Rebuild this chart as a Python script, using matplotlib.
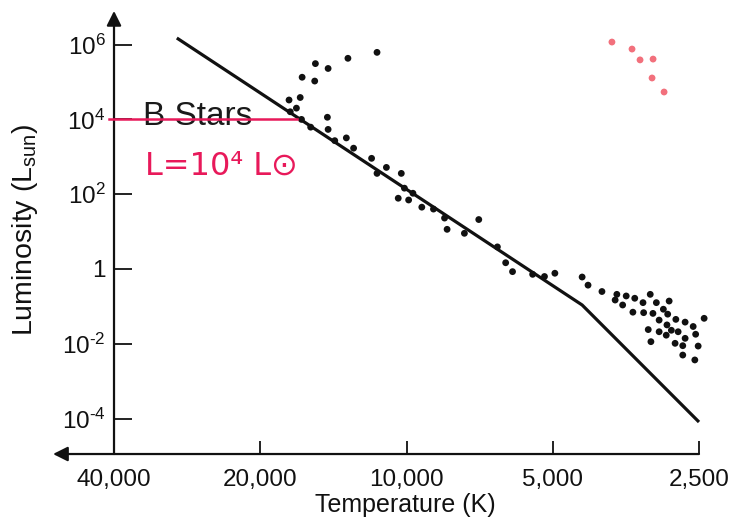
import matplotlib
matplotlib.use('Agg')
import matplotlib.pyplot as plt
from matplotlib.ticker import FixedLocator, FixedFormatter, NullLocator

plt.rcParams['font.family'] = ['Liberation Sans', 'DejaVu Sans']
plt.rcParams['mathtext.fontset'] = 'custom'
plt.rcParams['mathtext.rm'] = 'Liberation Sans'
plt.rcParams['mathtext.it'] = 'Liberation Sans:italic'
plt.rcParams['mathtext.bf'] = 'Liberation Sans:bold'

# ---------------- data ----------------
ms_temp = [29700, 4350, 2500]
ms_lum = [1.5e6, 0.109, 8.1e-5]

star_temp = [11500, 13200, 14500, 15400, 16400, 15450, 17450, 16550, 16850, 17350,
             14550, 16450, 15750, 14500, 14050, 13300, 12850, 11800, 11500, 11000,
             10250, 10100, 9700, 10400, 9900, 9300, 8800, 8350, 8250, 7600,
             7100, 6500, 6250, 6050, 5500, 5200, 4950, 4350, 4230, 3960,
             3690, 3530, 3720, 3590, 3390, 3150, 3260, 3060, 2880, 3420,
             3250, 3110, 2960, 2900, 3020, 2790, 2670, 2570, 2440, 3180,
             3020, 2910, 2850, 2920, 2760, 2670, 2540, 3140, 2800, 2700,
             2510, 2700, 2550]
star_lum = [6.2e5, 4.3e5, 2.3e5, 3.1e5, 1.34e5, 1.06e5, 3.3e4, 3.85e4, 2.0e4, 1.6e4,
            1.14e4, 1.0e4, 6.2e3, 5.4e3, 2.7e3, 3.2e3, 1.7e3, 910, 360, 520,
            360, 145, 106, 78, 70, 45, 40, 23, 11.5, 9.0,
            21, 3.9, 1.47, 0.85, 0.72, 0.63, 0.77, 0.61, 0.37, 0.25,
            0.21, 0.19, 0.148, 0.109, 0.165, 0.21, 0.126, 0.126, 0.139, 0.07,
            0.068, 0.065, 0.084, 0.062, 0.043, 0.045, 0.038, 0.029, 0.048, 0.024,
            0.021, 0.032, 0.023, 0.017, 0.021, 0.014, 0.018, 0.0114, 0.0103, 0.0089,
            0.0087, 0.005, 0.0037]

giant_temp = [3777, 3434, 3306, 3108, 3123, 2950]
giant_lum = [1.17e6, 7.6e5, 3.9e5, 4.1e5, 1.28e5, 5.4e4]

bstar_temp = [41000, 16800]
bstar_lum = [1e4, 1e4]

x_ticks = [40000, 20000, 10000, 5000, 2500]
x_labels = ['40,000', '20,000', '10,000', '5,000', '2,500']
y_ticks = [1e6, 1e4, 1e2, 1, 1e-2, 1e-4]
y_labels = [r'$10^{6}$', r'$10^{4}$', r'$10^{2}$', '1', r'$10^{\text{-}2}$', r'$10^{\text{-}4}$']

# ---------------- figure ----------------
W, H = 734, 525
fig = plt.figure(figsize=(W / 100, H / 100), dpi=100)
ax = fig.add_axes([50 / W, 1 - 460 / H, 660 / W, 450 / H])
ax.set_xscale('log')
ax.set_yscale('log')
ax.set_xlim(54177, 2373)
ax.set_ylim(10 ** -5.107, 10 ** 6.925)

x_axis_y = 10 ** -4.947
y_axis_x = 40000

for s in ['top', 'right']:
    ax.spines[s].set_visible(False)
ax.spines['left'].set_position(('data', y_axis_x))
ax.spines['bottom'].set_position(('data', x_axis_y))
ax.spines['left'].set_visible(False)
ax.spines['bottom'].set_visible(False)

# axis lines with arrows
ax.annotate('', xy=(53400, x_axis_y), xytext=(2500, x_axis_y),
            arrowprops=dict(arrowstyle='-|>', lw=1.6, color='#111111',
                            mutation_scale=22, shrinkA=0, shrinkB=0),
            annotation_clip=False)
ax.annotate('', xy=(y_axis_x, 10 ** 6.9), xytext=(y_axis_x, x_axis_y),
            arrowprops=dict(arrowstyle='-|>', lw=1.6, color='#111111',
                            mutation_scale=22, shrinkA=0, shrinkB=0),
            annotation_clip=False)

ax.xaxis.set_major_locator(FixedLocator(x_ticks))
ax.xaxis.set_major_formatter(FixedFormatter(x_labels))
ax.xaxis.set_minor_locator(NullLocator())
ax.yaxis.set_major_locator(FixedLocator(y_ticks))
ax.yaxis.set_major_formatter(FixedFormatter(y_labels))
ax.yaxis.set_minor_locator(NullLocator())
ax.tick_params(axis='x', direction='in', length=9.5, width=1.3, pad=11,
               labelsize=17.5, colors='#111111')
ax.tick_params(axis='y', direction='in', length=13, width=1.3, pad=6,
               labelsize=17.5, colors='#111111')

# main sequence line
ax.plot(ms_temp, ms_lum, color='#111111', lw=2.3, solid_capstyle='butt', zorder=3)

# stars
ax.scatter(star_temp, star_lum, s=24, color='#111111', edgecolors='none', zorder=4)
ax.scatter(giant_temp, giant_lum, s=24, color='#f2707c', edgecolors='none', zorder=4)

# B stars annotation
ax.text(34870, 7.08e3, 'B Stars', fontsize=24, color='#1a1a1a',
        ha='left', va='baseline', zorder=2)
ax.plot(bstar_temp, bstar_lum, color='#e8195a', lw=1.8, zorder=5)
ax.text(34540, 326, 'L=10\u2074 L\u2299', fontsize=23, color='#e8195a',
        family=['DejaVu Sans'], ha='left', va='baseline', zorder=5)

# axis labels
fig.text(405 / W, 1 - 505 / H, 'Temperature (K)', fontsize=18, color='#111111',
         ha='center', va='center')
fig.text(25 / W, 1 - 230 / H, r'Luminosity (L$_{\mathrm{sun}}$)', fontsize=20.5,
         color='#111111', ha='center', va='center', rotation=90)

fig.savefig('out.png', dpi=100)
